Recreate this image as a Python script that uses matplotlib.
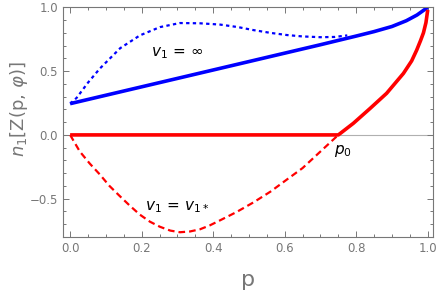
import numpy as np
import matplotlib.pyplot as plt
from matplotlib.ticker import MultipleLocator

plt.rcParams.update({
    "font.family": "DejaVu Sans",
    "mathtext.fontset": "dejavusans",
})

GRAY = "#777777"

# solid blue, v1 = infinity
p_blue = [0.0, 0.1, 0.2, 0.3, 0.4, 0.5, 0.6, 0.7, 0.8, 0.85, 0.9, 0.94, 0.97, 1.0]
n_blue = [0.245, 0.311, 0.377, 0.443, 0.509, 0.575, 0.641, 0.707, 0.775, 0.81, 0.85, 0.895, 0.94, 1.0]

# dotted blue
p_dot = [0.0, 0.018, 0.05, 0.083, 0.14, 0.195, 0.251, 0.307, 0.363, 0.419, 0.47, 0.512,
         0.56, 0.606, 0.65, 0.70, 0.74, 0.775]
n_dot = [0.245, 0.29, 0.41, 0.52, 0.68, 0.78, 0.845, 0.877, 0.875, 0.865, 0.845, 0.822,
         0.80, 0.783, 0.772, 0.766, 0.768, 0.78]

# solid red
p_red = [0.0, 0.75, 0.792, 0.839, 0.885, 0.932, 0.955, 0.969, 0.98, 0.988, 0.995, 1.0]
n_red = [0.0, 0.0, 0.091, 0.208, 0.326, 0.482, 0.58, 0.664, 0.74, 0.80, 0.88, 0.98]

# dashed red, v1 = v1*
p_dash = [0.0, 0.027, 0.055, 0.083, 0.11, 0.139, 0.167, 0.195, 0.223, 0.251, 0.28, 0.307,
          0.335, 0.363, 0.39, 0.419, 0.465, 0.512, 0.56, 0.606, 0.65, 0.70, 0.725, 0.75]
n_dash = [0.0, -0.13, -0.225, -0.31, -0.40, -0.48, -0.555, -0.625, -0.68, -0.72, -0.75, -0.763,
          -0.757, -0.74, -0.71, -0.67, -0.605, -0.53, -0.445, -0.35, -0.26, -0.13, -0.065, 0.0]

fig = plt.figure(figsize=(4.38, 2.94), dpi=100)
ax = fig.add_axes([0.1438, 0.194, 0.845, 0.781])

ax.axhline(0, color="#b0b0b0", lw=0.8, zorder=0)

ax.plot(p_dot, n_dot, color="#0000ff", lw=1.6, ls=(0, (1.5, 1.5)))
ax.plot(p_blue, n_blue, color="#0000ff", lw=2.6, solid_capstyle="butt")
ax.plot(p_dash, n_dash, color="#ff0000", lw=1.6, ls=(0, (3, 1.8)))
ax.plot(p_red, n_red, color="#ff0000", lw=2.6, solid_capstyle="butt")

ax.text(0.30, 0.64, r"$v_1\,=\,\infty$", fontsize=11, ha="center", va="center")
ax.text(0.30, -0.57, r"$v_1\,=\,v_{1*}$", fontsize=11, ha="center", va="center")
ax.text(0.762, -0.13, r"$p_0$", fontsize=11, ha="center", va="center")

ax.set_xlim(-0.02, 1.015)
ax.set_ylim(-0.8, 1.0)
ax.xaxis.set_major_locator(MultipleLocator(0.2))
ax.xaxis.set_minor_locator(MultipleLocator(0.05))
ax.yaxis.set_major_locator(MultipleLocator(0.5))
ax.yaxis.set_minor_locator(MultipleLocator(0.1))
ax.xaxis.set_major_formatter(plt.FuncFormatter(lambda v, _: f"{v:.1f}"))
ax.yaxis.set_major_formatter(plt.FuncFormatter(lambda v, _: f"{v:.1f}".replace("-", "\u2212")))

ax.tick_params(which="both", direction="in", top=True, right=True, color=GRAY,
               labelcolor=GRAY, labelsize=8.5, width=0.7)
ax.tick_params(which="major", length=4)
ax.tick_params(which="minor", length=2.2)
for s in ax.spines.values():
    s.set_color(GRAY)
    s.set_linewidth(0.8)

ax.set_xlabel("p", fontsize=16, color=GRAY, labelpad=11)
fig.text(19 / 438, 1 - 109 / 294, r"$n_1$[Z(p, $\varphi$)]", fontsize=13, color=GRAY,
         rotation=90, ha="center", va="center")

fig.savefig("out.png", dpi=100)
